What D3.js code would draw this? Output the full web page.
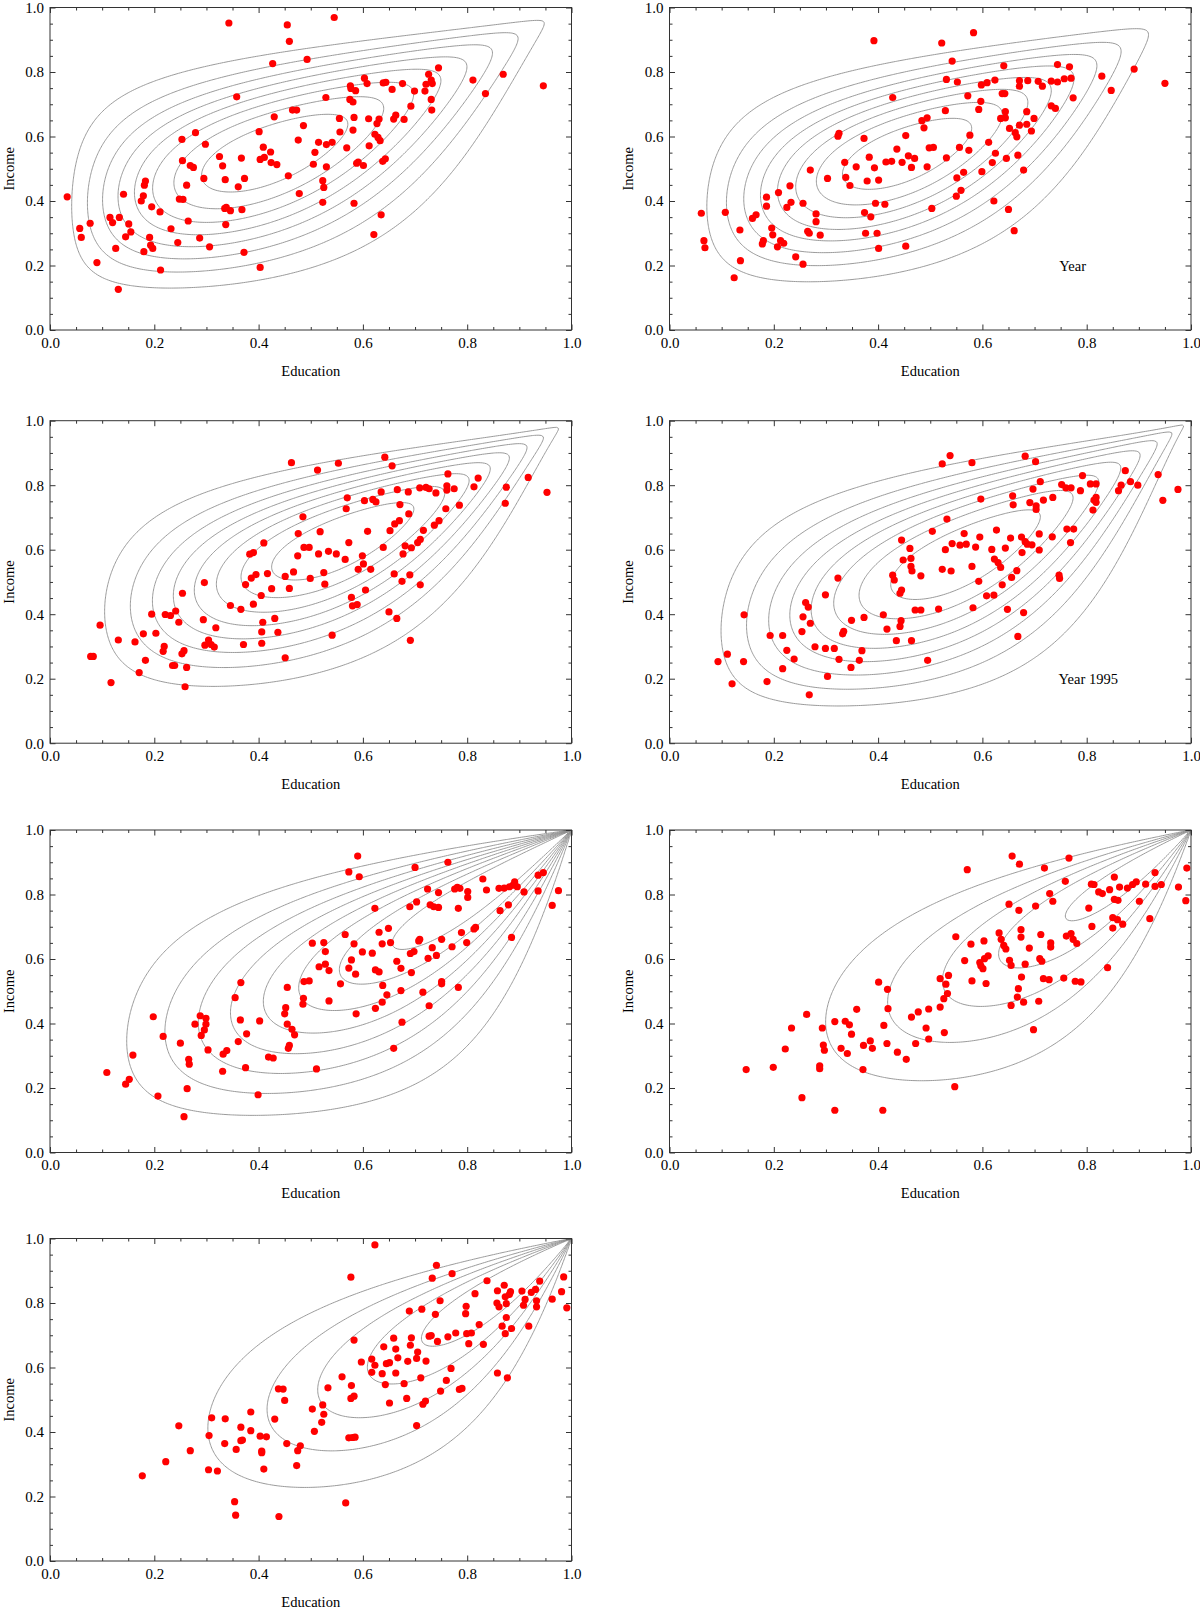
<!DOCTYPE html>
<html><head><meta charset="utf-8">
<script src="https://cdnjs.cloudflare.com/ajax/libs/d3/7.8.5/d3.min.js"></script>
<style>
body{margin:0;background:#fff;}
svg text{font-family:"Liberation Serif","Times New Roman",serif;fill:#000;}
</style></head><body>
<svg id="chart" width="1200" height="1609"></svg>
<script>
// ---------------- data ----------------
const xLabel = "Education";
const yLabel = "Income";
const tickValuesMajor = [0, 0.2, 0.4, 0.6, 0.8, 1.0];
const tickValuesMinor = [0.05,0.1,0.15,0.25,0.3,0.35,0.45,0.5,0.55,0.65,0.7,0.75,0.85,0.9,0.95];

const points1 = [[0.033,0.413],[0.057,0.315],[0.06,0.287],[0.077,0.331],[0.09,0.209],[0.115,0.349],[0.12,0.333],[0.126,0.253],[0.131,0.126],[0.133,0.349],[0.141,0.421],[0.145,0.289],[0.151,0.329],[0.155,0.304],[0.175,0.40],[0.179,0.416],[0.181,0.449],[0.183,0.462],[0.18,0.243],[0.191,0.287],[0.195,0.382],[0.193,0.263],[0.197,0.253],[0.211,0.366],[0.212,0.186],[0.232,0.314],[0.245,0.271],[0.248,0.406],[0.255,0.405],[0.253,0.591],[0.254,0.525],[0.262,0.449],[0.265,0.338],[0.269,0.51],[0.275,0.504],[0.279,0.612],[0.287,0.285],[0.298,0.576],[0.295,0.47],[0.306,0.258],[0.325,0.538],[0.331,0.509],[0.336,0.466],[0.335,0.377],[0.338,0.38],[0.337,0.327],[0.346,0.37],[0.343,0.952],[0.358,0.723],[0.361,0.444],[0.368,0.373],[0.367,0.533],[0.373,0.47],[0.372,0.241],[0.401,0.615],[0.403,0.529],[0.403,0.194],[0.409,0.567],[0.411,0.535],[0.423,0.552],[0.424,0.519],[0.435,0.513],[0.427,0.826],[0.43,0.661],[0.455,0.946],[0.459,0.895],[0.457,0.478],[0.465,0.682],[0.473,0.682],[0.476,0.589],[0.478,0.423],[0.486,0.634],[0.493,0.839],[0.505,0.514],[0.508,0.551],[0.515,0.582],[0.523,0.463],[0.525,0.442],[0.523,0.396],[0.529,0.721],[0.53,0.575],[0.53,0.506],[0.541,0.582],[0.545,0.969],[0.555,0.656],[0.556,0.614],[0.569,0.565],[0.575,0.715],[0.576,0.757],[0.577,0.749],[0.581,0.707],[0.583,0.659],[0.581,0.62],[0.586,0.742],[0.583,0.393],[0.588,0.517],[0.591,0.521],[0.601,0.51],[0.603,0.781],[0.608,0.764],[0.611,0.655],[0.612,0.571],[0.621,0.296],[0.623,0.607],[0.627,0.64],[0.631,0.654],[0.629,0.597],[0.633,0.587],[0.635,0.357],[0.639,0.766],[0.644,0.768],[0.638,0.523],[0.643,0.531],[0.656,0.746],[0.659,0.654],[0.663,0.666],[0.676,0.764],[0.679,0.653],[0.699,0.741],[0.692,0.694],[0.719,0.741],[0.721,0.762],[0.726,0.793],[0.731,0.775],[0.733,0.764],[0.731,0.715],[0.732,0.682],[0.745,0.813],[0.811,0.775],[0.835,0.733],[0.869,0.793],[0.946,0.757]];

const points2 = [[0.061,0.362],[0.066,0.277],[0.068,0.255],[0.107,0.365],[0.124,0.162],[0.135,0.31],[0.136,0.215],[0.159,0.346],[0.166,0.357],[0.178,0.267],[0.18,0.277],[0.186,0.412],[0.186,0.384],[0.196,0.316],[0.198,0.295],[0.209,0.426],[0.207,0.258],[0.213,0.277],[0.219,0.269],[0.225,0.38],[0.231,0.447],[0.233,0.396],[0.242,0.227],[0.256,0.204],[0.256,0.393],[0.265,0.306],[0.268,0.3],[0.27,0.496],[0.281,0.36],[0.281,0.336],[0.289,0.294],[0.303,0.47],[0.323,0.601],[0.325,0.61],[0.336,0.52],[0.338,0.473],[0.346,0.448],[0.358,0.506],[0.373,0.594],[0.374,0.364],[0.376,0.3],[0.379,0.462],[0.383,0.536],[0.386,0.351],[0.393,0.503],[0.395,0.393],[0.392,0.897],[0.398,0.3],[0.401,0.465],[0.401,0.253],[0.413,0.39],[0.415,0.521],[0.426,0.523],[0.428,0.721],[0.436,0.561],[0.446,0.52],[0.453,0.603],[0.453,0.26],[0.458,0.54],[0.464,0.504],[0.47,0.532],[0.484,0.649],[0.488,0.627],[0.494,0.658],[0.494,0.506],[0.498,0.565],[0.503,0.377],[0.506,0.566],[0.522,0.89],[0.529,0.68],[0.531,0.777],[0.531,0.534],[0.542,0.834],[0.551,0.472],[0.552,0.769],[0.55,0.415],[0.556,0.566],[0.559,0.433],[0.564,0.489],[0.572,0.726],[0.574,0.557],[0.576,0.604],[0.583,0.922],[0.593,0.684],[0.597,0.709],[0.598,0.76],[0.599,0.491],[0.612,0.582],[0.609,0.767],[0.619,0.519],[0.622,0.4],[0.624,0.775],[0.625,0.548],[0.635,0.656],[0.638,0.733],[0.643,0.733],[0.641,0.819],[0.644,0.677],[0.644,0.658],[0.646,0.532],[0.65,0.374],[0.652,0.625],[0.661,0.308],[0.663,0.612],[0.666,0.599],[0.668,0.542],[0.671,0.773],[0.671,0.756],[0.671,0.635],[0.679,0.496],[0.685,0.677],[0.685,0.638],[0.687,0.773],[0.694,0.617],[0.699,0.656],[0.707,0.771],[0.715,0.756],[0.732,0.695],[0.732,0.772],[0.74,0.687],[0.744,0.769],[0.744,0.823],[0.757,0.779],[0.767,0.816],[0.77,0.781],[0.774,0.72],[0.829,0.787],[0.847,0.743],[0.891,0.809],[0.95,0.765]];

const points3 = [[0.078,0.269],[0.083,0.269],[0.096,0.366],[0.117,0.188],[0.131,0.32],[0.163,0.314],[0.171,0.219],[0.179,0.339],[0.183,0.257],[0.195,0.4],[0.203,0.341],[0.217,0.285],[0.219,0.3],[0.221,0.399],[0.231,0.396],[0.235,0.241],[0.239,0.241],[0.241,0.41],[0.247,0.375],[0.253,0.277],[0.257,0.287],[0.254,0.465],[0.259,0.175],[0.262,0.235],[0.294,0.383],[0.296,0.498],[0.297,0.304],[0.304,0.32],[0.309,0.306],[0.315,0.298],[0.318,0.358],[0.346,0.427],[0.366,0.415],[0.371,0.306],[0.375,0.492],[0.383,0.586],[0.39,0.591],[0.386,0.512],[0.39,0.431],[0.395,0.523],[0.405,0.458],[0.408,0.375],[0.406,0.345],[0.406,0.31],[0.41,0.621],[0.417,0.526],[0.425,0.479],[0.431,0.387],[0.437,0.344],[0.451,0.517],[0.451,0.265],[0.459,0.48],[0.463,0.87],[0.467,0.531],[0.475,0.581],[0.476,0.65],[0.485,0.702],[0.487,0.607],[0.497,0.607],[0.499,0.511],[0.513,0.847],[0.515,0.587],[0.518,0.656],[0.525,0.529],[0.527,0.493],[0.534,0.595],[0.541,0.335],[0.549,0.587],[0.553,0.868],[0.566,0.57],[0.568,0.727],[0.57,0.761],[0.573,0.622],[0.578,0.452],[0.58,0.426],[0.589,0.43],[0.591,0.539],[0.599,0.581],[0.603,0.752],[0.601,0.556],[0.605,0.475],[0.609,0.657],[0.615,0.539],[0.619,0.756],[0.625,0.748],[0.635,0.779],[0.639,0.607],[0.642,0.887],[0.65,0.407],[0.652,0.659],[0.656,0.86],[0.66,0.525],[0.661,0.68],[0.665,0.387],[0.666,0.786],[0.67,0.69],[0.671,0.74],[0.675,0.502],[0.677,0.587],[0.681,0.612],[0.688,0.711],[0.687,0.779],[0.69,0.522],[0.691,0.319],[0.693,0.606],[0.705,0.622],[0.71,0.632],[0.71,0.491],[0.709,0.792],[0.716,0.66],[0.721,0.793],[0.727,0.789],[0.74,0.776],[0.737,0.676],[0.746,0.69],[0.759,0.727],[0.761,0.785],[0.761,0.798],[0.763,0.835],[0.775,0.789],[0.785,0.738],[0.813,0.795],[0.821,0.822],[0.875,0.794],[0.873,0.744],[0.917,0.824],[0.953,0.778]];

const points4 = [[0.093,0.253],[0.111,0.276],[0.12,0.184],[0.142,0.253],[0.143,0.398],[0.187,0.191],[0.193,0.334],[0.217,0.334],[0.217,0.231],[0.225,0.288],[0.239,0.261],[0.254,0.346],[0.256,0.392],[0.261,0.436],[0.266,0.422],[0.27,0.372],[0.268,0.15],[0.279,0.299],[0.299,0.46],[0.299,0.294],[0.303,0.207],[0.316,0.294],[0.323,0.512],[0.325,0.26],[0.332,0.339],[0.334,0.347],[0.348,0.235],[0.349,0.381],[0.364,0.257],[0.369,0.287],[0.373,0.39],[0.41,0.398],[0.417,0.354],[0.428,0.521],[0.431,0.506],[0.435,0.318],[0.442,0.362],[0.442,0.465],[0.445,0.475],[0.444,0.38],[0.445,0.63],[0.448,0.568],[0.461,0.604],[0.463,0.573],[0.463,0.548],[0.465,0.534],[0.464,0.318],[0.471,0.413],[0.482,0.413],[0.482,0.519],[0.495,0.257],[0.504,0.657],[0.516,0.416],[0.523,0.866],[0.523,0.539],[0.529,0.6],[0.532,0.695],[0.538,0.892],[0.54,0.534],[0.542,0.619],[0.557,0.614],[0.565,0.65],[0.569,0.617],[0.58,0.548],[0.58,0.87],[0.582,0.42],[0.587,0.608],[0.593,0.502],[0.595,0.639],[0.597,0.757],[0.608,0.457],[0.618,0.601],[0.622,0.459],[0.623,0.571],[0.627,0.661],[0.63,0.56],[0.635,0.545],[0.638,0.491],[0.644,0.605],[0.648,0.415],[0.654,0.636],[0.656,0.514],[0.658,0.767],[0.659,0.739],[0.666,0.535],[0.668,0.331],[0.675,0.639],[0.676,0.591],[0.679,0.405],[0.682,0.89],[0.682,0.625],[0.686,0.617],[0.691,0.746],[0.695,0.615],[0.697,0.788],[0.702,0.873],[0.703,0.736],[0.703,0.725],[0.709,0.649],[0.709,0.599],[0.711,0.811],[0.717,0.754],[0.735,0.762],[0.734,0.64],[0.747,0.521],[0.748,0.511],[0.752,0.802],[0.76,0.792],[0.77,0.792],[0.762,0.664],[0.769,0.622],[0.775,0.664],[0.788,0.783],[0.792,0.83],[0.807,0.804],[0.818,0.804],[0.812,0.723],[0.814,0.754],[0.818,0.762],[0.818,0.747],[0.861,0.783],[0.866,0.8],[0.874,0.845],[0.884,0.811],[0.898,0.8],[0.937,0.833],[0.946,0.753],[0.975,0.787]];

const points5 = [[0.109,0.248],[0.145,0.212],[0.152,0.227],[0.159,0.302],[0.198,0.421],[0.207,0.175],[0.217,0.36],[0.25,0.339],[0.263,0.198],[0.257,0.111],[0.266,0.289],[0.267,0.274],[0.278,0.398],[0.288,0.424],[0.29,0.363],[0.296,0.38],[0.299,0.416],[0.299,0.398],[0.303,0.318],[0.331,0.252],[0.332,0.305],[0.339,0.316],[0.355,0.48],[0.361,0.344],[0.366,0.527],[0.365,0.411],[0.375,0.263],[0.377,0.368],[0.399,0.179],[0.402,0.408],[0.419,0.296],[0.428,0.293],[0.45,0.43],[0.452,0.449],[0.455,0.512],[0.455,0.398],[0.457,0.323],[0.459,0.332],[0.464,0.382],[0.469,0.365],[0.485,0.46],[0.486,0.478],[0.487,0.53],[0.497,0.532],[0.503,0.649],[0.511,0.259],[0.516,0.576],[0.525,0.651],[0.528,0.623],[0.528,0.584],[0.535,0.564],[0.535,0.47],[0.557,0.523],[0.566,0.676],[0.573,0.87],[0.573,0.572],[0.578,0.597],[0.583,0.647],[0.586,0.553],[0.587,0.43],[0.59,0.919],[0.593,0.855],[0.599,0.622],[0.618,0.618],[0.623,0.757],[0.624,0.566],[0.624,0.447],[0.631,0.56],[0.631,0.683],[0.637,0.647],[0.638,0.518],[0.637,0.466],[0.646,0.489],[0.649,0.695],[0.653,0.651],[0.659,0.323],[0.665,0.593],[0.673,0.571],[0.673,0.502],[0.675,0.404],[0.69,0.762],[0.691,0.617],[0.693,0.558],[0.698,0.623],[0.7,0.884],[0.703,0.777],[0.707,0.656],[0.709,0.661],[0.715,0.497],[0.724,0.817],[0.725,0.602],[0.727,0.455],[0.729,0.768],[0.733,0.635],[0.736,0.762],[0.741,0.611],[0.745,0.76],[0.745,0.806],[0.751,0.661],[0.751,0.53],[0.751,0.523],[0.763,0.9],[0.771,0.638],[0.776,0.817],[0.781,0.822],[0.786,0.819],[0.783,0.757],[0.783,0.512],[0.789,0.682],[0.799,0.651],[0.801,0.809],[0.801,0.791],[0.813,0.693],[0.816,0.698],[0.83,0.848],[0.837,0.814],[0.861,0.819],[0.863,0.75],[0.871,0.82],[0.879,0.768],[0.881,0.824],[0.885,0.667],[0.888,0.829],[0.891,0.839],[0.896,0.824],[0.909,0.808],[0.936,0.811],[0.936,0.86],[0.946,0.868],[0.963,0.766],[0.975,0.812]];

const points6 = [[0.147,0.257],[0.199,0.264],[0.222,0.321],[0.234,0.386],[0.254,0.17],[0.263,0.428],[0.288,0.26],[0.288,0.269],[0.293,0.386],[0.295,0.333],[0.297,0.317],[0.317,0.131],[0.317,0.406],[0.329,0.323],[0.337,0.407],[0.341,0.307],[0.345,0.396],[0.349,0.367],[0.359,0.444],[0.371,0.257],[0.372,0.332],[0.385,0.346],[0.389,0.323],[0.401,0.528],[0.411,0.394],[0.409,0.131],[0.418,0.506],[0.419,0.446],[0.417,0.338],[0.437,0.311],[0.454,0.289],[0.464,0.42],[0.472,0.338],[0.477,0.436],[0.492,0.386],[0.497,0.352],[0.497,0.445],[0.519,0.451],[0.519,0.539],[0.526,0.477],[0.527,0.372],[0.53,0.522],[0.533,0.493],[0.535,0.549],[0.547,0.204],[0.549,0.669],[0.566,0.595],[0.571,0.877],[0.578,0.646],[0.58,0.532],[0.595,0.589],[0.597,0.579],[0.601,0.57],[0.603,0.656],[0.604,0.601],[0.607,0.524],[0.611,0.61],[0.632,0.681],[0.636,0.661],[0.641,0.642],[0.645,0.631],[0.651,0.77],[0.652,0.596],[0.655,0.58],[0.655,0.456],[0.657,0.919],[0.667,0.482],[0.669,0.508],[0.67,0.751],[0.671,0.894],[0.674,0.691],[0.674,0.668],[0.675,0.544],[0.679,0.466],[0.682,0.584],[0.69,0.634],[0.698,0.381],[0.702,0.764],[0.708,0.469],[0.71,0.601],[0.712,0.676],[0.714,0.593],[0.717,0.539],[0.719,0.882],[0.728,0.536],[0.731,0.65],[0.731,0.637],[0.729,0.803],[0.735,0.779],[0.756,0.541],[0.759,0.841],[0.761,0.671],[0.766,0.913],[0.77,0.679],[0.774,0.661],[0.778,0.531],[0.781,0.648],[0.789,0.529],[0.804,0.758],[0.81,0.701],[0.809,0.832],[0.814,0.831],[0.823,0.808],[0.83,0.803],[0.84,0.573],[0.844,0.815],[0.85,0.696],[0.85,0.728],[0.853,0.785],[0.853,0.854],[0.86,0.782],[0.859,0.722],[0.863,0.823],[0.869,0.708],[0.878,0.82],[0.888,0.831],[0.895,0.839],[0.901,0.779],[0.913,0.832],[0.921,0.725],[0.931,0.868],[0.931,0.825],[0.943,0.831],[0.976,0.823],[0.99,0.781],[0.992,0.882]];

const points7 = [[0.177,0.264],[0.222,0.308],[0.247,0.419],[0.269,0.342],[0.304,0.283],[0.305,0.389],[0.31,0.444],[0.321,0.279],[0.335,0.364],[0.336,0.441],[0.354,0.184],[0.356,0.142],[0.357,0.346],[0.366,0.415],[0.366,0.373],[0.369,0.375],[0.385,0.462],[0.385,0.404],[0.403,0.387],[0.406,0.341],[0.406,0.336],[0.41,0.285],[0.415,0.385],[0.431,0.44],[0.438,0.534],[0.439,0.138],[0.447,0.533],[0.45,0.498],[0.454,0.364],[0.473,0.296],[0.475,0.342],[0.48,0.357],[0.503,0.471],[0.507,0.402],[0.521,0.43],[0.523,0.484],[0.525,0.455],[0.533,0.537],[0.56,0.571],[0.567,0.18],[0.573,0.382],[0.578,0.544],[0.577,0.504],[0.577,0.88],[0.58,0.383],[0.583,0.511],[0.583,0.685],[0.585,0.384],[0.597,0.617],[0.617,0.626],[0.617,0.585],[0.623,0.607],[0.623,0.98],[0.637,0.581],[0.64,0.664],[0.643,0.547],[0.645,0.612],[0.651,0.615],[0.651,0.49],[0.659,0.691],[0.663,0.657],[0.663,0.583],[0.667,0.63],[0.679,0.55],[0.684,0.504],[0.686,0.619],[0.689,0.775],[0.691,0.669],[0.693,0.692],[0.703,0.628],[0.705,0.648],[0.703,0.42],[0.711,0.568],[0.713,0.781],[0.715,0.486],[0.72,0.496],[0.721,0.62],[0.727,0.697],[0.731,0.699],[0.733,0.877],[0.739,0.765],[0.741,0.917],[0.743,0.681],[0.748,0.807],[0.749,0.527],[0.76,0.56],[0.763,0.695],[0.769,0.597],[0.771,0.891],[0.778,0.707],[0.785,0.532],[0.79,0.535],[0.798,0.79],[0.797,0.767],[0.799,0.705],[0.803,0.674],[0.808,0.707],[0.815,0.829],[0.823,0.733],[0.831,0.672],[0.838,0.869],[0.857,0.8],[0.858,0.838],[0.858,0.583],[0.861,0.788],[0.867,0.728],[0.871,0.855],[0.873,0.819],[0.875,0.755],[0.875,0.798],[0.873,0.705],[0.877,0.568],[0.881,0.827],[0.883,0.835],[0.885,0.721],[0.905,0.837],[0.908,0.793],[0.911,0.811],[0.918,0.728],[0.923,0.833],[0.931,0.842],[0.933,0.807],[0.933,0.788],[0.939,0.868],[0.963,0.812],[0.981,0.835],[0.985,0.881],[0.991,0.785]];

const panelPoints = [points1, points2, points3, points4, points5, points6, points7];
const panelNotes = ["", "Year", "", "Year 1995", "", "", ""];
const noteX = [0, 0.773, 0, 0.803, 0, 0, 0];
const noteY = [0, 0.2, 0, 0.198, 0, 0, 0];

// contour model: bivariate beta density (Olkin-Liu) parameters per panel
const betaA = [2.4, 2.9, 3.1, 3.0, 3.0, 3.7, 3.8];
const betaB = [3.6, 4.0, 4.0, 3.2, 2.7, 3.0, 3.1];
const betaC = [3.0, 3.4, 2.9, 2.7, 2.0, 2.0, 2.0];
const contourCount = [8, 8, 8, 8, 8, 5, 5];
const contourTop = [0.889, 0.889, 0.889, 0.889, 0.889, 0.833, 0.75];

// ---------------- layout ----------------
const W = 521.5, H = 322.5;
const panelLeft = [50, 669.5, 50, 669.5, 50, 669.5, 50];
const panelTop  = [7.5, 7.5, 420.7, 420.7, 830, 830, 1238.5];

const svg = d3.select("#chart");
svg.append("rect").attr("width",1200).attr("height",1609).attr("fill","#fff");

function logDensity(k) {
  const a = betaA[k], b = betaB[k], c = betaC[k];
  return (x, y) => {
    const xx = Math.min(1 - 1e-7, Math.max(1e-7, x));
    const yy = Math.min(1 - 1e-7, Math.max(1e-7, y));
    return (a - 1) * Math.log(xx) + (b - 1) * Math.log(yy) + (b + c - 1) * Math.log(1 - xx)
         + (a + c - 1) * Math.log(1 - yy) - (a + b + c) * Math.log(1 - xx * yy);
  };
}

const N = 241;
panelPoints.forEach((pts, k) => {
  const g = svg.append("g").attr("transform", `translate(${panelLeft[k]},${panelTop[k]})`);
  const x = d3.scaleLinear().domain([0, 1]).range([0, W]);
  const y = d3.scaleLinear().domain([0, 1]).range([H, 0]);

  const clipId = "clip" + k;
  g.append("clipPath").attr("id", clipId).append("rect").attr("width", W).attr("height", H);

  // contours
  const lf = logDensity(k);
  const lv = new Float64Array(N * N);
  for (let j = 0; j < N; j++) for (let i = 0; i < N; i++) lv[j * N + i] = lf(i / (N - 1), j / (N - 1));
  const mx = d3.max(lv);
  const vals = lv.map(v => Math.exp(v - mx));
  const n = contourCount[k];
  const thr = d3.range(1, n + 1).map(i => i * contourTop[k] / n);
  const cs = d3.contours().size([N, N]).thresholds(thr)(vals);
  const toPath = (mp) => mp.coordinates.map(poly => poly.map(ring =>
      "M" + ring.map(pt => {
        const dx = Math.min(1, Math.max(0, (pt[0] - 0.5) / (N - 1)));
        const dy = Math.min(1, Math.max(0, (pt[1] - 0.5) / (N - 1)));
        return x(dx).toFixed(2) + "," + y(dy).toFixed(2);
      }).join("L") + "Z").join("")).join("");
  g.append("g").attr("clip-path", `url(#${clipId})`)
    .selectAll("path").data(cs).join("path")
    .attr("d", toPath).attr("fill", "none").attr("stroke", "#8f8f8f").attr("stroke-width", 0.9);

  // points
  g.append("g").attr("clip-path", `url(#${clipId})`)
    .selectAll("circle").data(pts).join("circle")
    .attr("cx", d => x(d[0])).attr("cy", d => y(d[1])).attr("r", 3.6).attr("fill", "#ff0000");

  // frame
  g.append("rect").attr("width", W).attr("height", H).attr("fill", "none").attr("stroke", "#333").attr("stroke-width", 1);

  const fmt = d3.format(".1f");
  const style = sel => { sel.select(".domain").remove(); sel.selectAll("line").attr("stroke", "#333");
    sel.attr("font-family", "Liberation Serif, Times New Roman, serif").attr("font-size", 15); };
  g.append("g").attr("transform", `translate(0,${H})`).call(d3.axisBottom(x).tickValues(tickValuesMajor).tickSize(-5.5).tickPadding(7).tickFormat(fmt)).call(style);
  g.append("g").attr("transform", `translate(0,${H})`).call(d3.axisBottom(x).tickValues(tickValuesMinor).tickSize(-3).tickFormat("")).call(style);
  g.append("g").call(d3.axisTop(x).tickValues(tickValuesMajor).tickSize(-5.5).tickFormat("")).call(style);
  g.append("g").call(d3.axisTop(x).tickValues(tickValuesMinor).tickSize(-3).tickFormat("")).call(style);
  g.append("g").call(d3.axisLeft(y).tickValues(tickValuesMajor).tickSize(-5.5).tickPadding(6).tickFormat(fmt)).call(style);
  g.append("g").call(d3.axisLeft(y).tickValues(tickValuesMinor).tickSize(-3).tickFormat("")).call(style);
  g.append("g").attr("transform", `translate(${W},0)`).call(d3.axisRight(y).tickValues(tickValuesMajor).tickSize(-5.5).tickFormat("")).call(style);
  g.append("g").attr("transform", `translate(${W},0)`).call(d3.axisRight(y).tickValues(tickValuesMinor).tickSize(-3).tickFormat("")).call(style);

  // axis labels
  g.append("text").attr("x", W / 2).attr("y", H + 40.5).attr("dy", "0.35em")
    .attr("text-anchor", "middle").attr("font-size", 14.5).text(xLabel);
  g.append("text").attr("transform", `translate(${-41.5},${H / 2}) rotate(-90)`)
    .attr("dy", "0.35em").attr("text-anchor", "middle").attr("font-size", 14.5).text(yLabel);

  if (panelNotes[k]) {
    g.append("text").attr("x", x(noteX[k])).attr("y", y(noteY[k])).attr("dy", "0.35em")
      .attr("text-anchor", "middle").attr("font-size", 14.5).text(panelNotes[k]);
  }
});
</script>
</body></html>
